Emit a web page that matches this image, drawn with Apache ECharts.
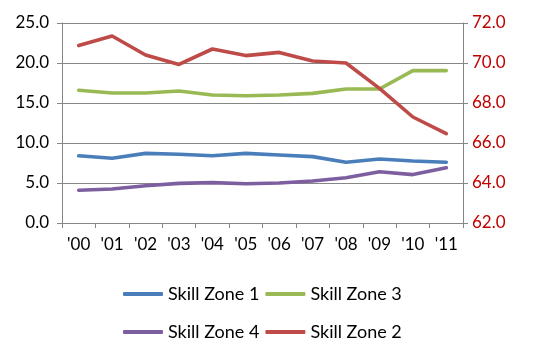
<!DOCTYPE html>
<html><head><meta charset="utf-8">
<script src="https://cdn.jsdelivr.net/npm/echarts@6/dist/echarts.min.js"></script>
<style>html,body{margin:0;padding:0;background:#fff}#c{width:535px;height:360px}</style>
</head><body><div id="c"></div>
<script>
const categories = ["'00","'01","'02","'03","'04","'05","'06","'07","'08","'09","'10","'11"];
const zone1 = [8.4, 8.1, 8.7, 8.6, 8.4, 8.7, 8.5, 8.3, 7.6, 8.0, 7.75, 7.6];
const zone3 = [16.6, 16.25, 16.25, 16.5, 16.0, 15.9, 16.0, 16.2, 16.75, 16.75, 19.05, 19.05];
const zone4 = [4.1, 4.25, 4.65, 4.95, 5.05, 4.9, 5.0, 5.25, 5.65, 6.4, 6.05, 6.9];
const zone2 = [70.87, 71.35, 70.4, 69.93, 70.7, 70.37, 70.53, 70.1, 70.0, 68.73, 67.3, 66.47];
const FONT = 'Lato';
const grey = '#868686';
const chart = echarts.init(document.getElementById('c'), null, {renderer:'canvas'});
function ser(name, data, color, yi){
  return {name, type:'line', data, yAxisIndex:yi, symbol:'none', smooth:false,
    lineStyle:{width:3.6, color, cap:'round', join:'round'}, itemStyle:{color}};
}
const legText = {fontFamily:FONT, fontSize:18, color:'#000', width:97};
chart.setOption({
  animation:false,
  grid:{left:62, right:72, top:23, bottom:137},
  legend:[
    {data:['Skill Zone 1','Skill Zone 3'], left:123, top:285, padding:0, itemWidth:40, itemHeight:4, itemGap:6, icon:'roundRect', textStyle:legText},
    {data:['Skill Zone 4','Skill Zone 2'], left:123, top:323, padding:0, itemWidth:40, itemHeight:4, itemGap:6, icon:'roundRect', textStyle:legText}
  ],
  xAxis:{type:'category', data:categories, boundaryGap:true,
    axisLine:{lineStyle:{color:grey, width:1}},
    axisTick:{show:true, length:5, lineStyle:{color:grey}},
    axisLabel:{fontFamily:FONT, fontSize:17, color:'#000', margin:13, interval:0},
    splitLine:{show:false}},
  yAxis:[
    {type:'value', min:0, max:25, interval:5, position:'left',
     axisLine:{show:true, lineStyle:{color:grey}},
     axisTick:{show:true, length:5, lineStyle:{color:grey}},
     axisLabel:{fontFamily:FONT, fontSize:17, color:'#000', margin:13, formatter:v=>v.toFixed(1)},
     splitLine:{show:true, lineStyle:{color:grey, width:1}}},
    {type:'value', min:62, max:72, interval:2, position:'right',
     axisLine:{show:true, lineStyle:{color:grey}},
     axisTick:{show:true, length:5, lineStyle:{color:grey}},
     axisLabel:{fontFamily:FONT, fontSize:17, color:'#C00000', margin:9, formatter:v=>v.toFixed(1)},
     splitLine:{show:false}}
  ],
  series:[
    ser('Skill Zone 1', zone1, '#4A7EBB', 0),
    ser('Skill Zone 3', zone3, '#98B954', 0),
    ser('Skill Zone 4', zone4, '#7D5FA0', 0),
    ser('Skill Zone 2', zone2, '#BE4B48', 1)
  ]
});
</script></body></html>
